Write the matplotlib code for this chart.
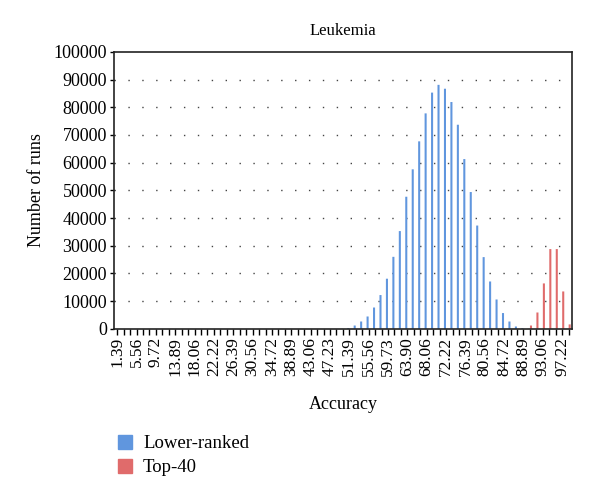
import matplotlib
matplotlib.use('Agg')
import matplotlib.pyplot as plt
from matplotlib.patches import Patch
import numpy as np

# accuracy categories (k/72 * 100), as printed on the axis
accuracy = ['%.2f' % (k / 72 * 100) for k in range(1, 72)]
accuracy[33] = '47.23'
accuracy[42] = '59.73'
accuracy[45] = '63.90'

# number of runs per accuracy bin (index = k - 1)
lower_ranked = [0] * 35 + [50, 300, 1200, 2650, 4460, 7700, 12200, 18100, 26000, 35300,
                           47700, 57600, 67700, 77800, 85300, 88100, 86700, 81900, 73700,
                           61300, 49400, 37300, 25900, 17100, 10600, 5700, 2650, 850, 240,
                           50, 0, 0, 0, 0, 0, 0]
top_40 = [0] * 64 + [1200, 5900, 16400, 28800, 28800, 13500, 1600]

cor_azul = '#6096de'
cor_verm = '#e06b6b'

plt.rcParams['font.family'] = ['Liberation Serif', 'DejaVu Serif']

fig = plt.figure(figsize=(6, 4.99), dpi=100)
ax = fig.add_axes([0.19, 0.341, 0.763, 0.555])

x = np.arange(1, len(accuracy) + 1)
w = 0.32
ax.bar(x - 0.17, lower_ranked, w, color=cor_azul, linewidth=0, snap=False)
ax.bar(x + 0.17, top_40, w, color=cor_verm, linewidth=0, snap=False)

ax.set_xlim(0.5, len(accuracy) + 0.5)
ax.set_ylim(0, 100000)
ax.set_yticks(np.arange(0, 100001, 10000))
ax.set_yticklabels(['%d' % v for v in np.arange(0, 100001, 10000)], fontsize=13)
ax.set_xticks(x)
ax.set_xticklabels([a if (i % 3 == 0) else '' for i, a in enumerate(accuracy)],
                   rotation=90, fontsize=12.5)
ax.tick_params(axis='x', length=4, width=1, pad=2)
ax.tick_params(axis='y', length=3, width=1, pad=2)

for v in np.arange(10000, 100000, 10000):
    ax.axhline(v, color='#444444', linewidth=1, linestyle=(0, (1, 9)), zorder=0)

for s in ax.spines.values():
    s.set_linewidth(1.2)
    s.set_color('#222222')

ax.set_title('Leukemia', fontsize=12, pad=12)
ax.set_xlabel('Accuracy', fontsize=13, labelpad=14)
ax.set_ylabel('Number of runs', fontsize=13, labelpad=6)

handles = [Patch(color=cor_azul), Patch(color=cor_verm)]
fig.legend(handles, ['Lower-ranked', 'Top-40'], loc='upper left',
           bbox_to_anchor=(0.168, 0.162), frameon=False, fontsize=13.5,
           handlelength=0.75, handleheight=0.75, handletextpad=0.6, labelspacing=0.35)

fig.savefig('out.png', dpi=100)
